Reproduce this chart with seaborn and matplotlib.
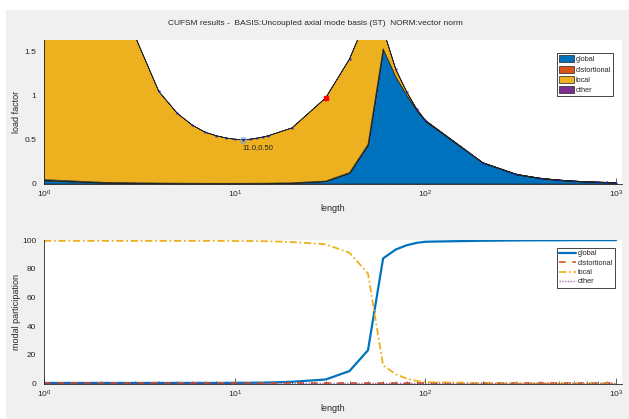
import numpy as np
import pandas as pd
import seaborn as sns
import matplotlib.pyplot as plt
from matplotlib.patches import Rectangle

# half-wavelengths (CUFSM lengths)
length = [1, 2, 3, 4, 5, 6, 7, 8, 9, 10, 11, 12, 13, 14, 15, 20, 30, 40, 50,
          60, 70, 80, 90, 100, 200, 300, 400, 500, 600, 700, 800, 900, 1000]
load_factor = [9.0, 2.9, 1.68, 1.05, 0.80, 0.665, 0.585, 0.545, 0.52, 0.505,
               0.50, 0.505, 0.515, 0.53, 0.545, 0.635, 0.977, 1.42, 1.92,
               1.76, 1.30, 1.04, 0.85, 0.72, 0.238, 0.105, 0.06, 0.04, 0.028,
               0.021, 0.016, 0.013, 0.01]
# modal participation (%)
pct_global = [0.4, 0.4, 0.4, 0.4, 0.4, 0.4, 0.4, 0.4, 0.4, 0.5, 0.5, 0.5, 0.6,
              0.6, 0.7, 1.2, 2.8, 8.7, 23.2, 87.2, 93.4, 96.4, 98.0, 98.8,
              99.5, 99.7, 99.8, 99.8, 99.9, 99.9, 99.9, 99.9, 99.9]
pct_dist = [0.1] * 33
pct_local = [99.4, 99.4, 99.4, 99.4, 99.4, 99.4, 99.4, 99.4, 99.4, 99.3, 99.3,
             99.3, 99.2, 99.2, 99.1, 98.6, 97.0, 91.1, 76.6, 12.6, 6.4, 3.4,
             1.8, 1.0, 0.3, 0.1, 0.05, 0.05, 0.0, 0.0, 0.0, 0.0, 0.0]
pct_other = [0.1] * 33

labels = ["global", "distortional", "local", "other"]
colors = ["#0072BD", "#D95319", "#EDB120", "#7E2F8E"]

sns.set_style("white")
plt.rcParams['font.family'] = ['Liberation Sans', 'DejaVu Sans']
dark = "#262626"

fig = plt.figure(figsize=(6.29, 4.19), dpi=100, facecolor="white")
fig.patches.append(Rectangle((6 / 629, 0), 1, 1 - 10 / 419, transform=fig.transFigure,
                             color="#f0f0f0", zorder=-10))

ax1 = fig.add_axes([0.070, 0.562, 0.919, 0.3425])
ax2 = fig.add_axes([0.070, 0.0847, 0.919, 0.3425])

df = pd.DataFrame({"length": length, "lf": load_factor, "global": pct_global,
                   "distortional": pct_dist, "local": pct_local, "other": pct_other})

#### load factor, stacked by participation
stacks = [df["lf"] * df[c] / 100 for c in labels]
ax1.stackplot(df["length"], stacks, colors=colors, labels=labels,
              edgecolor="#222222", linewidth=0.5)
ax1.plot(df["length"], df["lf"], ls="none", marker=".", ms=1.2, color="#2020c0")
ax1.plot([11], [0.50], ls="none", marker="o", ms=4, mfc="none", mec="#6fa8dc", mew=0.8)
ax1.annotate("11.0,0.50", xy=(11, 0.50), xytext=(0, -6), textcoords="offset points",
             ha="left", va="center", fontsize=5.5, color="#222222")
ax1.plot([30], [0.977], ls="none", marker="s", ms=3, color="red")
ax1.set_ylim(0, 1.636)
ax1.set_yticks([0, 0.5, 1, 1.5])
ax1.set_yticklabels(["0", "0.5", "1", "1.5"])
ax1.set_ylabel("load factor", fontsize=6.5, color=dark)
leg1 = ax1.legend(loc="upper right", bbox_to_anchor=(0.984, 0.909), borderaxespad=0,
                  fontsize=5.3, fancybox=False, framealpha=1, edgecolor=dark,
                  handlelength=2.1, handleheight=1.1, labelspacing=0.3,
                  handletextpad=0.15, borderpad=0.3)
leg1.get_frame().set_linewidth(0.6)

#### modal participation
sns.lineplot(data=df, x="length", y="global", ax=ax2, color=colors[0],
             linewidth=1.6, label="global")
sns.lineplot(data=df, x="length", y="distortional", ax=ax2, color=colors[1],
             linewidth=1.2, label="distortional", linestyle=(0, (4, 4)))
sns.lineplot(data=df, x="length", y="local", ax=ax2, color=colors[2],
             linewidth=1.3, label="local", linestyle=(0, (4, 1.5, 1, 1.5)))
sns.lineplot(data=df, x="length", y="other", ax=ax2, color=colors[3],
             linewidth=1.0, label="other", linestyle=(0, (1, 1)), alpha=0.7)
ax2.set_ylim(0, 100)
ax2.set_yticks(range(0, 101, 20))
ax2.set_ylabel("modal participation", fontsize=6.5, color=dark)
leg2 = ax2.legend(loc="upper right", bbox_to_anchor=(0.988, 0.944), borderaxespad=0,
                  fontsize=5.3, fancybox=False, framealpha=1, edgecolor=dark,
                  handlelength=2.3, labelspacing=0.3, handletextpad=0.2, borderpad=0.3)
leg2.get_frame().set_linewidth(0.6)

for ax in (ax1, ax2):
    ax.set_xscale("log")
    ax.set_xlim(1, 1075)
    ax.set_xlabel("length", fontsize=6.5, color=dark)
    ax.xaxis.set_label_coords(0.5, -0.143)
    ax.yaxis.set_label_coords(-0.04, 0.5)
    ax.set_facecolor("white")
    for s in ("top", "right"):
        ax.spines[s].set_visible(False)
    for s in ("left", "bottom"):
        ax.spines[s].set_color(dark)
        ax.spines[s].set_linewidth(0.6)
    ax.tick_params(axis="y", direction="out", length=3.5, width=0.5,
                   labelsize=6, colors=dark, pad=2)
    ax.tick_params(axis="x", which="major", direction="in", length=4, width=0.5,
                   labelsize=6, colors=dark, pad=4, bottom=True)
    ax.tick_params(axis="x", which="minor", direction="in", length=2, width=0.5,
                   colors=dark, bottom=True)

fig.text(0.502, 0.945, "CUFSM results -  BASIS:Uncoupled axial mode basis (ST)  NORM:vector norm",
         ha="center", va="center", fontsize=6, color=dark)

plt.savefig("out.png", dpi=100, facecolor=fig.get_facecolor())
